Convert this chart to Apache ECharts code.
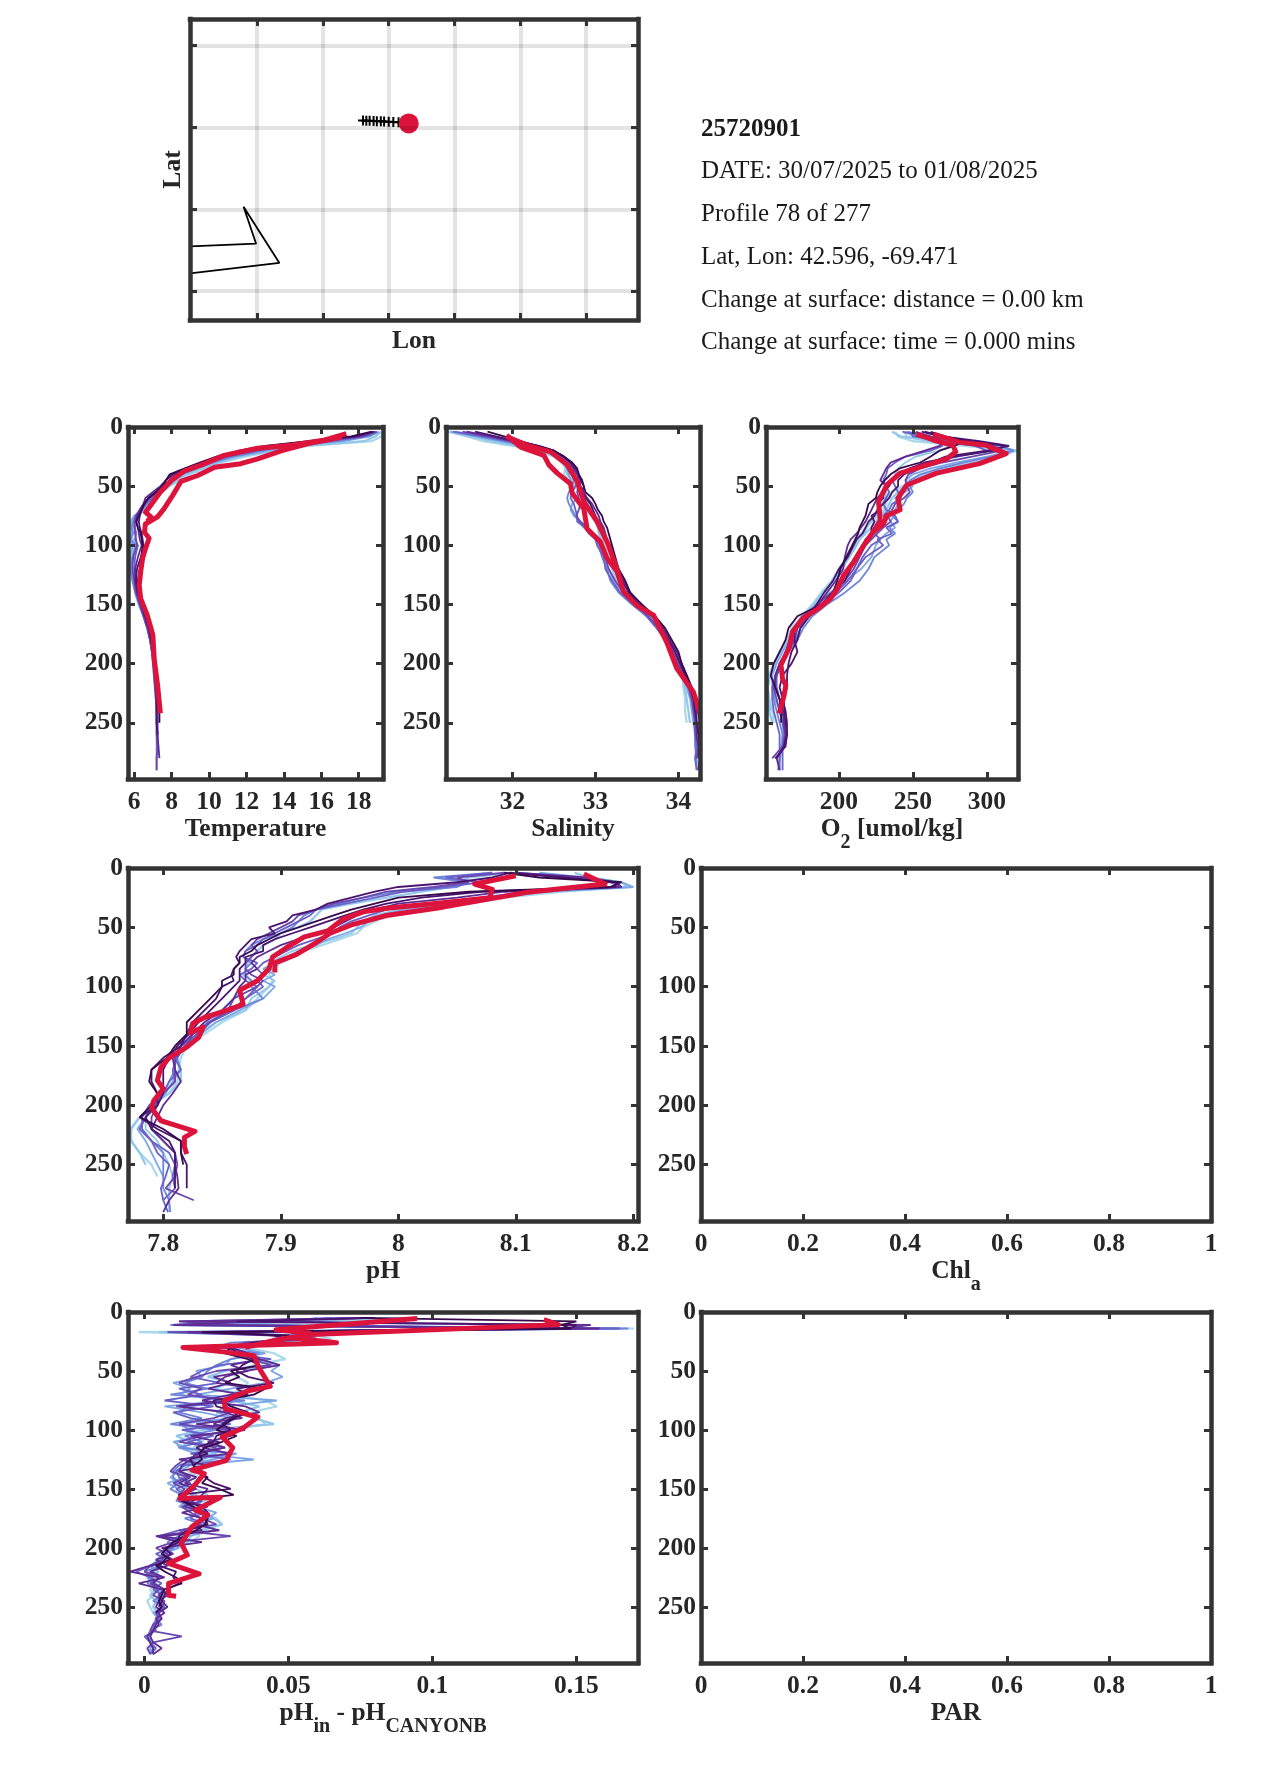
<!DOCTYPE html>
<html><head><meta charset="utf-8">
<style>html,body{margin:0;padding:0;background:#fff}#c{width:1275px;height:1771px}</style>
<script src="https://cdn.jsdelivr.net/npm/echarts@6/dist/echarts.min.js"></script>
</head><body><div id="c"></div>
<script>
// ---------- text ----------
const infoLines = ['25720901','DATE: 30/07/2025 to 01/08/2025','Profile 78 of 277','Lat, Lon: 42.596, -69.471','Change at surface: distance = 0.00 km','Change at surface: time = 0.000 mins'];
// ---------- tick values ----------
const depthTicks = [0,50,100,150,200,250];
const tempTicks = [6,8,10,12,14,16,18];
const salTicks = [32,33,34];
const oxyTicks = [200,250,300];
const phTicks = [7.8,7.9,8,8.1,8.2];
const unitTicks = [0,0.2,0.4,0.6,0.8,1];
const deltaTicks = [0,0.05,0.1,0.15];
const lonTicks = [-69.7,-69.6,-69.5,-69.4,-69.3,-69.2];
const latTicks = [42.391,42.491,42.591,42.691];
// ---------- map ----------
const trackLon = [-69.539,-69.534,-69.529,-69.523,-69.518,-69.512,-69.507,-69.5,-69.493,-69.485,-69.48,-69.4695];
const trackLat = [42.5994,42.5993,42.5991,42.5989,42.5987,42.5985,42.5983,42.598,42.5977,42.5973,42.597,42.596];
const coastLon = [-69.802,-69.7015,-69.7206,-69.6661,-69.802];
const coastLat = [42.4458,42.449,42.4942,42.4254,42.4127];
// ---------- shared depth levels of the background profiles ----------
const depths = [4,8,12,16,20,25,30,35,40,45,50,55,60,65,70,75,80,85,90,95,100,110,120,130,140,150,160,170,180,190,200,210,220,230,240,250,260,270,280,290];
const deltaDepths = [5,8,11,14,17,20,23,26,30,35,40,45,50,55,60,65,70,75,80,85,90,95,100,105,110,115,120,125,130,135,140,145,150,155,160,165,170,175,180,185,190,195,200,205,210,215,220,225,230,235,240,245,250,255,260,265,270,275,280,285,290];
const lineColors = ['#a9d9ea','#93c8ea','#7ea6e6','#6d86dc','#6a62c8','#6a48b0','#5f2c94','#4a1570','#380a4c'];
// ---------- temperature ----------
const tempA=[19.4,19.2,18.7,15.3,13.7,11.9,10.7,9.8,9.0,8.5,7.9,7.5,7.2,6.9,6.6,6.2,5.9,5.75,5.72,5.85,5.9,5.85,5.85,5.95,6.05,6.25,6.5,6.7,6.85,6.95,7.05,7.1,7.15,7.2,7.25,7.25];
const tempB=[19.2,18.9,18.3,15.0,13.4,11.6,10.5,9.6,8.8,8.3,7.8,7.4,7.1,6.8,6.5,6.1,5.85,5.8,5.7,5.95,6.05,5.8,5.95,6.0,6.1,6.3,6.55,6.75,6.9,7.0,7.05,7.1,7.15,7.2,7.25,7.25];
const tempH=[19.1,18.6,17.2,14.6,13.1,11.4,10.3,9.4,8.6,8.2,7.8,7.5,7.15,6.85,6.45,6.0,5.8,5.9,5.85,5.75,5.95,5.75,5.9,5.95,6.1,6.3,6.5,6.7,6.85,6.95,7.05,7.1,7.15,7.2,7.25,7.25,7.25,7.25,7.2];
const tempC=[19.0,18.5,16.8,14.3,12.9,11.2,10.2,9.3,8.5,8.1,7.7,7.3,7.0,6.7,6.35,6.05,5.95,5.85,5.95,5.8,6.1,5.9,5.8,5.9,6.05,6.25,6.5,6.7,6.85,6.95,7.05,7.1,7.15,7.2,7.2,7.2,7.2,7.2,7.2,7.2];
const tempI=[19.0,18.3,16.5,14.0,12.6,11.0,10.0,9.2,8.3,8.0,7.6,7.3,6.95,6.6,6.4,6.2,6.15,6.05,6.1,6.05,6.2,6.05,6.0,6.05,6.15,6.35,6.55,6.75,6.85,6.95,7.05,7.1,7.15,7.2,7.2,7.25,7.25];
const tempD=[18.9,18.2,16.2,13.8,12.4,10.9,9.9,9.1,8.2,7.9,7.5,7.2,6.8,6.5,6.3,6.1,6.0,6.0,6.05,6.1,6.15,5.95,5.9,6.0,6.1,6.3,6.5,6.7,6.85,6.95,7.0,7.05,7.1,7.15,7.2,7.2,7.2,7.25,7.2,7.2];
const tempE=[18.9,18.0,15.8,13.4,12.0,10.7,9.8,9.0,8.1,7.7,7.4,7.0,6.6,6.5,6.3,6.15,6.1,6.2,6.25,6.3,6.4,6.2,6.05,6.05,6.15,6.35,6.55,6.75,6.9,7.0,7.05,7.1,7.15,7.2,7.2,7.2,7.25,7.3,7.35];
const tempF=[18.8,17.8,15.5,13.2,11.8,10.5,9.7,8.9,8.0,7.7,7.5,7.2,6.8,6.5,6.4,6.3,6.25,6.3,6.4,6.45,6.5,6.35,6.15,6.1,6.2,6.4,6.6,6.8,6.9,7.0,7.1,7.15,7.2,7.2,7.2,7.2,7.25];
const tempG=[18.7,17.6,15.3,13.0,11.6,10.4,9.5,8.7,7.9,7.7,7.5,7.15,6.75,6.55,6.4,6.25,6.1,6.2,6.35,6.4,6.45,6.4,6.3,6.2,6.25,6.45,6.65,6.85,6.95,7.05,7.1,7.2,7.25,7.3,7.35,7.35];
const tempRed1=[17.34,16.2,14.4,12.6,10.8,9.6,8.7,8,7.4,6.8,6.6,6.9,6.7];
const tempRed1D=[5.6,11,15.5,18,24,32,37,45,55,68,72,76,80];
const tempRed2=[17.1,15.3,13.9,12.6,11.7,10.3,9.4,8.5,8.05,7.6,7.25,6.6,6.55,6.8,6.6,6.45,6.35,6.27,6.35,6.7,7,7.07,7.25,7.4];
const tempRed2D=[8.5,14,20,27,31,34,41,46,58,69,76,82,89,94,103,111,122,134,145,159,176,196,218,242];
// ---------- salinity ----------
const salA=[31.25,31.45,31.65,32.0,32.3,32.5,32.6,32.64,32.62,32.68,32.74,32.82,32.88,32.92,32.96,33.0,33.02,33.05,33.06,33.08,33.1,33.16,33.22,33.28,33.36,33.48,33.64,33.75,33.84,33.92,33.98,34.04,34.06,34.08,34.08,34.1];
const salB=[31.22,31.5,31.75,32.05,32.35,32.52,32.62,32.64,32.66,32.72,32.78,32.82,32.85,32.88,32.9,32.95,33.0,33.03,33.04,33.07,33.08,33.14,33.2,33.27,33.35,33.48,33.65,33.76,33.85,33.93,33.99,34.05,34.08,34.1,34.12,34.14];
const salH=[31.26,31.55,31.85,32.12,32.38,32.54,32.63,32.66,32.68,32.7,32.7,32.74,32.78,32.72,32.7,32.74,32.82,32.9,32.94,33.0,33.06,33.1,33.16,33.22,33.32,33.46,33.62,33.74,33.84,33.92,33.98,34.05,34.1,34.14,34.16,34.18,34.2,34.22];
const salC=[31.28,31.6,31.9,32.2,32.42,32.56,32.64,32.68,32.72,32.74,32.72,32.68,32.66,32.68,32.72,32.76,32.8,32.86,32.96,33.0,33.04,33.08,33.14,33.18,33.28,33.44,33.62,33.74,33.84,33.92,33.98,34.06,34.12,34.16,34.18,34.2,34.2,34.2,34.22,34.22];
const salD=[31.3,31.65,31.95,32.25,32.45,32.58,32.66,32.7,32.74,32.78,32.76,32.72,32.7,32.74,32.76,32.78,32.78,32.88,32.92,33.0,33.02,33.1,33.12,33.2,33.3,33.46,33.62,33.74,33.84,33.92,33.98,34.06,34.14,34.18,34.2,34.2,34.2,34.22,34.2,34.22];
const salE=[31.4,31.7,31.98,32.28,32.48,32.6,32.68,32.72,32.78,32.84,32.8,32.78,32.8,32.82,32.8,32.77,32.82,32.9,32.98,33.02,33.06,33.12,33.16,33.24,33.34,33.5,33.64,33.76,33.86,33.94,34.0,34.06,34.12,34.16,34.18,34.2,34.21,34.24,34.22];
const salI=[31.45,31.75,32.0,32.3,32.5,32.62,32.7,32.74,32.78,32.8,32.82,32.86,32.9,32.96,33.0,33.04,33.06,33.1,33.12,33.14,33.18,33.22,33.26,33.34,33.42,33.54,33.7,33.82,33.9,33.98,34.04,34.1,34.16,34.2,34.22,34.22,34.22,34.24,34.24];
const salF=[31.55,31.8,32.05,32.32,32.5,32.62,32.7,32.76,32.8,32.82,32.86,32.84,32.88,32.94,32.97,33.0,33.04,33.08,33.1,33.14,33.16,33.2,33.24,33.32,33.4,33.52,33.68,33.8,33.88,33.96,34.02,34.08,34.14,34.18,34.2,34.22,34.24,34.26,34.26,34.24];
const salG=[31.7,31.9,32.1,32.3,32.5,32.62,32.72,32.78,32.8,32.84,32.86,32.88,32.96,33.0,33.03,33.08,33.1,33.14,33.16,33.18,33.2,33.24,33.28,33.36,33.42,33.56,33.72,33.84,33.92,34.0,34.04,34.1,34.16,34.2,34.24,34.26,34.24];
const salRed1=[31.93,32.1,32.38,32.44,32.54,32.7,32.72,32.86,32.9,33.06,33.14,33.26,33.34,33.5,33.7,33.86,33.98,34.18,34.26];
const salRed1D=[7,17,24,32,39,48,56,69,86,97,111,122,139,151,159,182,204,224,242];
const salRed2=[31.93,32.18,32.46,32.66,32.78,32.86,33.02,33.14,33.26,33.3];
const salRed2D=[8,15.5,21,32,46,63,80,97,120,130];
// ---------- oxygen ----------
const oxyA=[238,240,250,285,319,305,290,275,262,250,243,236,232,232,230,226,222,218,215,212,210,205,200,195,188,182,175,168,165,160,156,153,152,153,155,156];
const oxyB=[236,242,262,300,320,308,292,272,258,248,245,240,236,234,232,228,225,222,218,214,212,207,202,197,190,184,177,170,166,160,156,153,151,152,153,155];
const oxyC=[244,246,262,275,268,252,245,240,238,236,233,232,231,229,228,225,222,219,217,213,211,206,201,196,189,183,176,169,165,161,157,154,152,153,154];
const oxyD=[245,252,275,305,317,300,280,262,250,245,250,245,238,240,238,237,235,238,232,228,225,222,215,205,194,185,175,170,167,162,158,155,155,157,160,162,162,161,160,160];
const oxyJ=[246,258,280,310,318,303,285,268,255,248,248,250,246,244,240,236,240,234,238,232,234,224,220,214,204,192,182,176,172,166,162,158,156,156,158,160,162,162,160,160];
const oxyE=[243,255,268,270,262,245,238,233,232,230,232,234,232,230,232,238,240,232,236,226,230,218,212,206,198,190,180,172,170,165,160,158,158,160,162,163,163,162,162,162];
const oxyK=[248,250,270,292,300,280,262,248,240,236,238,240,242,236,234,230,232,228,224,228,222,216,212,208,200,190,180,174,171,165,160,157,155,155,156,158,160,160,160,159];
const oxyF=[250,258,285,305,310,290,270,255,247,245,246,248,244,238,236,233,235,230,226,222,218,214,210,204,195,185,178,172,170,164,161,158,156,158,160,162,164,162,155];
const oxyG=[252,262,270,268,258,245,235,232,230,228,232,230,226,224,222,220,218,215,212,208,206,204,203,198,192,186,178,170,167,164,160,157,157,160,162,163,164,163,158,160];
const oxyH=[258,270,295,315,300,272,262,252,244,240,240,236,234,230,226,224,220,218,216,212,210,206,200,196,190,185,180,174,172,168,166,165,165,163,163,164,165,164,157];
const oxyL=[256,268,290,312,305,278,258,248,240,236,234,230,230,226,228,222,224,222,222,218,216,212,208,204,196,188,176,170,170,172,168,162,160,162,164,165,165,163,158];
const oxyI=[262,272,285,278,268,262,255,241,235,231,228,226,225,220,219,218,216,214,213,211,209,205,201,199,196,188,172,166,164,160,156,154,157,160,161,161];
const oxyRed1=[252.6,263.8,277,279,272.7,254.8,241.4,232.4,226.8,228,222.4,216.8,210,203.4,198.9,194.4,185.5,175.4,168.7,166.4,160.9,162,164.2,163,159.7];
const oxyRed1D=[6,11,15.5,21,27,34,39,49,63,79,90,100,114,125,137,145,154,162,173,187,201,213,218,227,242];
const oxyRed2=[263.8,281.7,299.6,313,295,266,245.9,240,241.4,232.4,230,224];
const oxyRed2D=[6,13,15.5,22.5,31,39,49,60,70,75,82,88];
// ---------- pH ----------
const phA=[8.15,8.165,8.19,8.2,8.14,8.09,8.06,8.015,7.99,7.98,7.97,7.965,7.95,7.935,7.92,7.91,7.9,7.893,7.89,7.893,7.89,7.88,7.87,7.85,7.835,7.82,7.815,7.813,7.812,7.805,7.79,7.78,7.773,7.772,7.78,7.79,7.795];
const phB=[8.1,8.06,8.05,8.045,8.02,7.99,7.96,7.935,7.93,7.925,7.915,7.9,7.895,7.885,7.88,7.875,7.872,7.87,7.868,7.875,7.87,7.86,7.85,7.84,7.83,7.815,7.81,7.815,7.815,7.805,7.79,7.78,7.772,7.773,7.78,7.785];
const phC=[8.15,8.16,8.19,8.195,8.12,8.08,8.04,8.0,7.98,7.97,7.965,7.96,7.945,7.925,7.91,7.9,7.89,7.892,7.885,7.895,7.89,7.875,7.87,7.845,7.83,7.82,7.81,7.81,7.81,7.8,7.79,7.785,7.785,7.795,7.8,7.805,7.808,7.805,7.805,7.805];
const phJ=[8.12,8.16,8.19,8.2,8.125,8.085,8.05,8.005,7.985,7.975,7.968,7.955,7.94,7.93,7.915,7.905,7.895,7.885,7.895,7.885,7.895,7.885,7.865,7.845,7.832,7.818,7.812,7.815,7.808,7.802,7.793,7.785,7.778,7.785,7.79,7.795,7.80];
const phD=[8.08,8.03,8.06,8.05,8.0,7.97,7.95,7.93,7.92,7.915,7.91,7.9,7.885,7.875,7.87,7.868,7.875,7.87,7.87,7.875,7.875,7.885,7.86,7.84,7.825,7.815,7.81,7.81,7.805,7.8,7.79,7.785,7.78,7.79,7.8,7.8,7.8,7.8,7.805,7.806];
const phK=[8.08,8.04,8.07,8.04,8.005,7.98,7.955,7.93,7.925,7.915,7.905,7.895,7.885,7.88,7.87,7.868,7.88,7.875,7.865,7.87,7.88,7.87,7.858,7.838,7.828,7.818,7.812,7.808,7.81,7.8,7.788,7.782,7.782,7.79,7.795,7.805,7.802,7.798,7.8,7.804];
const phE=[8.1,8.15,8.18,8.19,8.11,8.07,8.03,7.99,7.975,7.96,7.95,7.945,7.93,7.915,7.905,7.895,7.885,7.88,7.885,7.88,7.885,7.87,7.86,7.84,7.83,7.815,7.81,7.815,7.805,7.8,7.792,7.785,7.78,7.79,7.805,7.81,7.808,7.81,7.8];
const phF=[8.09,8.05,8.06,8.03,7.99,7.97,7.945,7.93,7.915,7.91,7.9,7.89,7.88,7.875,7.88,7.875,7.87,7.87,7.875,7.885,7.88,7.86,7.855,7.84,7.825,7.82,7.81,7.81,7.81,7.8,7.795,7.79,7.79,7.8,7.81,7.812,7.81,7.802,7.826];
const phG=[8.1,8.16,8.185,8.19,8.09,8.05,8.0,7.98,7.965,7.955,7.945,7.93,7.915,7.9,7.89,7.88,7.875,7.88,7.87,7.87,7.865,7.86,7.85,7.835,7.825,7.815,7.808,7.81,7.815,7.808,7.8,7.795,7.79,7.8,7.81,7.81,7.812,7.813,7.805,7.8];
const phL=[8.095,8.14,8.185,8.185,8.07,8.02,7.99,7.97,7.955,7.94,7.925,7.91,7.895,7.885,7.885,7.87,7.87,7.865,7.865,7.865,7.86,7.85,7.84,7.83,7.822,7.812,7.805,7.8,7.8,7.8,7.795,7.785,7.79,7.805,7.81,7.81,7.81,7.81];
const phH=[8.095,8.08,8.05,8.0,7.98,7.96,7.94,7.93,7.91,7.905,7.89,7.895,7.875,7.87,7.865,7.862,7.865,7.86,7.858,7.86,7.85,7.845,7.835,7.825,7.82,7.815,7.8,7.79,7.79,7.795,7.795,7.78,7.795,7.815,7.815,7.82,7.82,7.82];
const phI=[8.09,8.12,8.19,8.18,8.06,8.0,7.98,7.96,7.945,7.93,7.915,7.9,7.89,7.88,7.875,7.865,7.865,7.86,7.86,7.85,7.85,7.84,7.83,7.82,7.82,7.81,7.803,7.79,7.788,7.795,7.79,7.78,7.8,7.815,7.815,7.817];
const phRed1=[8.10,8.065,8.08,8.078,8.04,7.99,7.97,7.953,7.94,7.92,7.905,7.893,7.89,7.88,7.865,7.868,7.854,7.835,7.825,7.823,7.834,7.83,7.82,7.805,7.798,7.795,7.8,7.792,7.79,7.798,7.808,7.827,7.818,7.818,7.82];
const phRed1D=[6.5,13.5,18,25,29,34,37,43,53,58,67,75,85,95,103,115,120,126,131,139,134,143,151,160,168,179,186,196,202,213,216,222,227,235,241];
const phRed2=[8.158,8.176,8.11,8.078,8.038,7.99,7.96,7.942,7.93,7.913,7.895,7.895];
const phRed2D=[5,13.5,20.5,26,33,40,48,55,63,73,80,88];
// ---------- pH minus CANYON-B ----------
const deltaA=[.095,.06,.045,.17,-.002,.06,.065,.045,.035,.045,.049,.038,.03,.032,.036,.034,.03,.042,.046,.037,.04,.042,.03,.022,.02,.017,.021,.024,.018,.015,.019,.012,.017,.016,.022,.013,.02,.025,.027,.018,.019,.016,.011,.008,.007,.004,.003,.002,.004,.002,.003,.001,.002,.003];
const deltaB=[.09,.045,.012,.16,.005,.055,.05,.04,.03,.03,.04,.045,.028,.022,.03,.024,.035,.03,.04,.033,.038,.045,.02,.011,.016,.012,.025,.02,.014,.011,.014,.01,.018,.022,.016,.02,.018,.024,.027,.02,.016,.015,.01,.006,.005,.002,.005,.001,.003,.004,.002,.004,.003,.005,.004];
const deltaC=[.075,.06,.01,.165,.01,.05,.06,.04,.035,.038,.04,.047,.044,.048,.042,.03,.018,.046,.028,.025,.032,.028,.014,.02,.011,.012,.018,.038,.016,.012,.009,.012,.015,.018,.02,.018,.025,.022,.019,.025,.015,.014,.009,.007,.006,.003,.002,.001,.004,.006,.005,.004,.006,.005,.004,.003,.003,.002,.003,.002,.002];
const deltaI=[.06,.05,.03,.16,.01,.05,.055,.04,.032,.042,.03,.028,.018,.02,.01,.016,.012,.028,.007,.02,.03,.012,.016,.02,.01,.014,.032,.024,.012,.01,.014,.008,.012,.017,.015,.012,.02,.024,.017,.018,.013,.01,.012,.006,.007,.005,.003,.006,.002,.005,.007,.004,.006,.003,.005,.004,.003,.002,.002,.003,.002];
const deltaD=[.065,.04,.009,.168,.012,.06,.058,.03,.025,.04,.03,.025,.022,.02,.014,.022,.009,.035,.015,.012,.02,.009,.025,.014,.02,.012,.03,.018,.012,.01,.01,.012,.009,.013,.011,.017,.022,.014,.02,.013,.012,.008,.01,.007,.004,.006,0,.003,.001,.004,.006,.003,.007,.005,.004,.006,.002,.001,.002,.003,.002];
const deltaJ=[.07,.03,.012,.165,.012,.055,.06,.035,.03,.03,.044,.026,.02,.016,.026,.012,.02,.007,.024,.01,.016,.03,.013,.024,.015,.028,.016,.03,.014,.011,.012,.016,.011,.014,.012,.016,.018,.016,.022,.012,.005,.014,.009,.004,.008,.003,-.003,.002,.006,.003,.006,.005,.007,.004,.005,.003,.004,0,.002,.004,.002];
const deltaE=[.08,.012,.03,.15,.008,.045,.05,.035,.03,.035,.037,.044,.025,.018,.012,.02,.015,.03,.011,.03,.024,.012,.03,.02,.012,.025,.02,.014,.011,.009,.015,.01,.014,.012,.02,.013,.016,.02,.025,.012,.03,.01,.004,.008,.006,.002,0,.006,.002,.005,.003,.007,.006,.004,.006,.003,.002,.013,.003,.001,.002];
const deltaK=[.078,.04,.01,.158,.015,.05,.052,.042,.03,.036,.04,.03,.036,.024,.03,.022,.034,.03,.012,.028,.034,.018,.035,.016,.026,.02,.03,.012,.022,.012,.016,.012,.018,.012,.014,.022,.013,.02,.018,.026,.006,.02,.006,.01,.004,.008,.002,.007,-.002,.006,.008,.005,.004,.007,.004,.005,.003,.002,.003,.006,.003];
const deltaF=[.078,.012,.155,.145,.018,.05,.055,.04,.028,.036,.04,.047,.035,.028,.025,.038,.03,.02,.035,.04,.028,.024,.033,.03,.022,.028,.018,.016,.013,.012,.018,.014,.022,.02,.017,.014,.022,.02,.017,.02,.004,.012,.008,.006,.01,.002,-.005,.005,.003,.007,.005,.006,.008,.005,.006,.004,.003,.001,.002,.003,.003];
const deltaG=[.08,.032,.15,.148,.03,.045,.05,.04,.03,.032,.038,.034,.032,.036,.045,.032,.036,.024,.025,.033,.03,.027,.03,.025,.024,.018,.022,.016,.017,.02,.021,.024,.03,.012,.013,.02,.022,.021,.022,.015,.012,.012,.007,.009,.007,.005,.011,.01,.012,.008,.007,.006,.005];
const deltaH=[.075,.15,.145,.148,.02,.05,.048,.038,.03,.028,.036,.04,.03,.033,.028,.042,.038,.027,.03,.036,.031,.028,.025,.032,.027,.021,.019,.02,.017,.018,.022,.02,.026,.031,.013,.017,.02,.022,.021,.018,.014,.01,.008,.006,.009,.004,.007,.011,.013,.007,.006,.005,.006,.004];
const deltaRed1=[.0947,.0457,.0574,.052,.0667,.0134,.0283,.038,.0397,.0437,.0357,.0277,.028,.0394,.0345,.027,.0307,.0283,.0165,.0208,.017,.0122,.0264,.0177,.022,.0165,.0128,.0149,.0084,.019,.0084,.0084,.011];
const deltaRed1D=[5.6,15,18,22,26,30,34,37,47,63,67,75,82,89,98,106,115,126,134,137,148,158,157,168,172,182,196,206,213,222,230,240,241];
const deltaRed2=[.1387,.1437,.1,.058,.045,.035];
const deltaRed2D=[6.5,10.7,15,19,24,30];

// ---------- layout ----------
const FONT='"Liberation Serif"', INK='#262626', FRAME='#333333';
const RED='#dc143c';
const rich={
  b:{fontFamily:FONT,fontWeight:'bold',fontSize:25.5,color:INK},
  s:{fontFamily:FONT,fontWeight:'bold',fontSize:20,color:INK,padding:[28,0,0,0],verticalAlign:'bottom'}
};
const grid=[],xAxis=[],yAxis=[],series=[];
function panel(box,xr,xt,yr,yt,xname,yname,opt){
  opt=opt||{};
  const g=grid.length;
  grid.push({left:box[0],top:box[1],width:box[2]-box[0],height:box[3]-box[1],containLabel:false});
  const line={show:true,onZero:false,lineStyle:{color:FRAME,width:4.5,cap:'square'}};
  const tick=(t)=>({show:true,inside:true,length:7,lineStyle:{color:FRAME,width:3},customValues:t});
  const lab=(t,on,m)=>({show:on,customValues:t,margin:m,fontFamily:FONT,fontWeight:'bold',fontSize:25.5,color:INK,hideOverlap:false,showMinLabel:true,showMaxLabel:true});
  const split=(t)=>opt.grid?{show:true,lineStyle:{color:'rgba(0,0,0,0.11)',width:4}}:{show:false};
  const isRich=xname.indexOf('{')===0;
  xAxis.push({type:'value',gridIndex:g,position:'bottom',min:xr[0],max:xr[1],z:5,axisLine:line,axisTick:tick(xt),axisLabel:lab(xt,!opt.hideLabels,10),splitLine:split(xt),
    name:xname,nameLocation:'middle',nameGap:opt.xGap||(isRich?26:37),nameTextStyle:{rich:rich,fontFamily:FONT,fontWeight:'bold',fontSize:25.5,color:INK}});
  xAxis.push({type:'value',gridIndex:g,position:'top',min:xr[0],max:xr[1],z:5,axisLine:line,axisTick:tick(xt),axisLabel:{show:false},splitLine:{show:false}});
  yAxis.push({type:'value',gridIndex:g,position:'left',inverse:!opt.grid,min:yr[0],max:yr[1],z:5,axisLine:line,axisTick:tick(yt),axisLabel:lab(yt,!opt.hideLabels,5),splitLine:split(yt),
    name:yname||'',nameLocation:'middle',nameGap:opt.yGap||18,nameTextStyle:{fontFamily:FONT,fontWeight:'bold',fontSize:25.5,color:INK}});
  yAxis.push({type:'value',gridIndex:g,position:'right',inverse:!opt.grid,min:yr[0],max:yr[1],z:5,axisLine:line,axisTick:tick(yt),axisLabel:{show:false},splitLine:{show:false}});
  return {xAxisIndex:g*2,yAxisIndex:g*2};
}
function pairs(vals,deps){const o=[];vals.forEach((v,i)=>{if(v!==null&&deps[i]!==undefined)o.push([v,deps[i]])});return o;}
function addLines(ax,lines,deps,reds){
  lines.forEach((v,i)=>{
    const c=lineColors[Math.min(lineColors.length-1,Math.round(i*(lineColors.length-1)/(lines.length-1)))];
    series.push(Object.assign({type:'line',data:pairs(v,deps),symbol:'none',smooth:false,silent:true,animation:false,z:2,lineStyle:{color:c,width:i<2?2.2:1.8}},ax));
  });
  reds.forEach(r=>series.push(Object.assign({type:'line',data:pairs(r[0],r[1]),symbol:'none',smooth:false,silent:true,animation:false,z:3,lineStyle:{color:RED,width:5,join:'round'}},ax)));
}
const depthRange=[0,297.5];
// map
const mapAx=panel([190,19,638,320],[-69.802,-69.1211],lonTicks,[42.3557,42.7236],latTicks,'Lon','Lat',{grid:true,hideLabels:true,xGap:8,yGap:4});
series.push(Object.assign({type:'line',data:coastLon.map((v,i)=>[v,coastLat[i]]),symbol:'none',silent:true,animation:false,z:2,lineStyle:{color:'#000',width:1.8}},mapAx));
series.push(Object.assign({type:'line',data:trackLon.map((v,i)=>[v,trackLat[i]]),symbol:'path://M3.6,0h1.8v3.6h3.6v1.8h-3.6v3.6h-1.8v-3.6h-3.6v-1.8h3.6z',symbolSize:10,showAllSymbol:true,silent:true,animation:false,z:2,itemStyle:{color:'#000'},lineStyle:{color:'#000',width:1.5}},mapAx));
series.push(Object.assign({type:'scatter',data:[[trackLon[trackLon.length-1],trackLat[trackLat.length-1]]],symbol:'circle',symbolSize:20,silent:true,animation:false,z:4,itemStyle:{color:RED,opacity:1}},mapAx));
// profiles
addLines(panel([128,427,383,779],[5.67,19.3],tempTicks,depthRange,depthTicks,'Temperature'),[tempA,tempB,tempH,tempC,tempI,tempD,tempE,tempF,tempG],depths,[[tempRed1,tempRed1D],[tempRed2,tempRed2D]]);
addLines(panel([446,427,700,779],[31.2,34.26],salTicks,depthRange,depthTicks,'Salinity'),[salA,salB,salH,salC,salD,salE,salI,salF,salG],depths,[[salRed1,salRed1D],[salRed2,salRed2D]]);
addLines(panel([766,427,1018,779],[150.8,321],oxyTicks,depthRange,depthTicks,'{b|O}{s|2}{b| [umol/kg]}'),[oxyA,oxyB,oxyC,oxyD,oxyJ,oxyE,oxyK,oxyF,oxyG,oxyH,oxyL,oxyI],depths,[[oxyRed1,oxyRed1D],[oxyRed2,oxyRed2D]]);
addLines(panel([128,868,638,1221],[7.77,8.204],phTicks,depthRange,depthTicks,'pH'),[phA,phB,phC,phJ,phD,phK,phE,phF,phG,phL,phH,phI],depths,[[phRed1,phRed1D],[phRed2,phRed2D]]);
panel([701,868,1211,1221],[0,1],unitTicks,depthRange,depthTicks,'{b|Chl}{s|a}');
addLines(panel([128,1312,638,1663],[-0.0057,0.1714],deltaTicks,depthRange,depthTicks,'{b|pH}{s|in}{b| - pH}{s|CANYONB}'),[deltaA,deltaB,deltaC,deltaI,deltaD,deltaJ,deltaE,deltaK,deltaF,deltaG,deltaH],deltaDepths,[[deltaRed1,deltaRed1D],[deltaRed2,deltaRed2D]]);
panel([701,1312,1211,1663],[0,1],unitTicks,depthRange,depthTicks,'PAR');
// info block
const infoY=[131,173,216,259,301.5,343.5];
const graphic=infoLines.map((t,i)=>({type:'text',left:701,top:infoY[i]-14,silent:true,style:{text:t,fontFamily:FONT,fontSize:25,fontWeight:i===0?'bold':'normal',fill:'#1a1a1a'}}));
const chart=echarts.init(document.getElementById('c'),null,{renderer:'canvas',width:1275,height:1771});
chart.setOption({animation:false,backgroundColor:'#fff',grid,xAxis,yAxis,series,graphic,tooltip:{show:false},legend:{show:false}});
</script></body></html>
